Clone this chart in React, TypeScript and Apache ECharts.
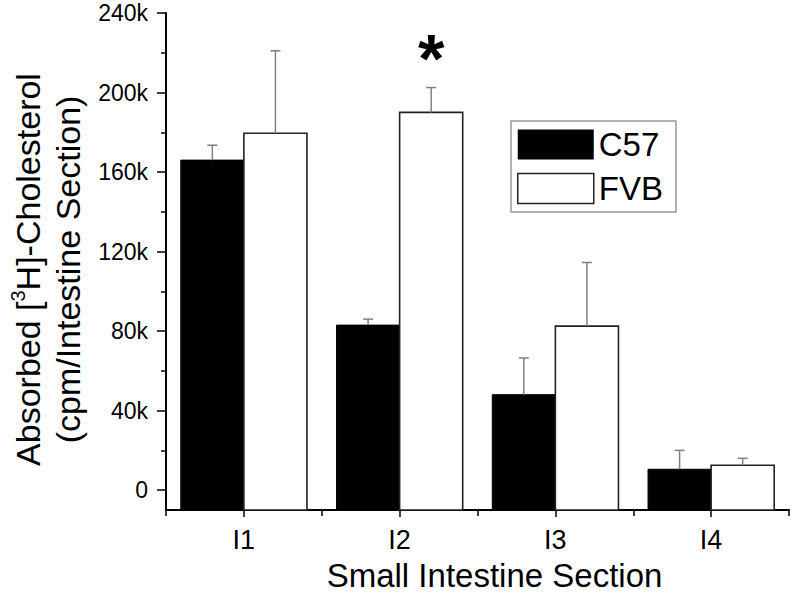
import React, { useEffect, useRef } from "react";
import * as echarts from "echarts";

const categories = ["I1", "I2", "I3", "I4"];
const c57Values = [166000, 83000, 48000, 10500];
const c57Errors = [7500, 3000, 18500, 9500];
const fvbValues = [179500, 190000, 82500, 12500];
const fvbErrors = [41500, 12500, 32000, 3500];
const fvbSignificance = ["", "*", "", ""];
const yMajorTicks = [0, 40000, 80000, 120000, 160000, 200000, 240000];
const yMinorTicks = [20000, 60000, 100000, 140000, 180000, 220000];
const Y_MIN = -10000;
const Y_MAX = 240000;

const FONT = "'Liberation Sans', Arial, Helvetica, sans-serif";
const BAR_FRAC = 0.405;

function makeRender(sIdx: number) {
  return (params: any, api: any) => {
    const cat = api.value(0);
    const val = api.value(1);
    const err = api.value(2);
    const top = api.coord([cat, val]);
    const base = api.coord([cat, Y_MIN]);
    const band = api.size([1, 0])[0];
    const w = band * BAR_FRAC;
    const x0 = sIdx === 0 ? top[0] - w : top[0];
    const cx = x0 + w / 2;
    const ey = api.coord([cat, val + err])[1];
    const children: any[] = [
      {
        type: "rect",
        shape: { x: x0, y: top[1], width: w, height: base[1] - top[1] },
        style:
          sIdx === 0
            ? { fill: "#000", stroke: "#000", lineWidth: 1 }
            : { fill: "#fff", stroke: "#222", lineWidth: 1.6 },
      },
      {
        type: "line",
        shape: { x1: cx, y1: top[1], x2: cx, y2: ey },
        style: { stroke: "#808080", lineWidth: 1.5 },
      },
      {
        type: "line",
        shape: { x1: cx - 5, y1: ey, x2: cx + 5, y2: ey },
        style: { stroke: "#808080", lineWidth: 1.5 },
      },
    ];
    if (sIdx === 1 && fvbSignificance[params.dataIndex]) {
      children.push({
        type: "text",
        style: {
          text: fvbSignificance[params.dataIndex],
          x: cx,
          y: ey - 30,
          align: "center",
          verticalAlign: "middle",
          fontSize: 68,
          fontWeight: "bold",
          fontFamily: FONT,
          fill: "#000",
        },
      });
    }
    return { type: "group", children };
  };
}

export default function App() {
  const ref = useRef<HTMLDivElement>(null);
  useEffect(() => {
    document.body.style.margin = "0";
    const chart = echarts.init(ref.current!, null, { renderer: "svg" });
    const tickStyle = { color: "#000", width: 1.5 };
    chart.setOption({
      animation: false,
      backgroundColor: "#fff",
      grid: { left: 165, right: 5, top: 13, bottom: 80, containLabel: false },
      legend: {
        orient: "vertical",
        left: 511,
        top: 121,
        padding: [7, 13, 7, 6],
        itemWidth: 76,
        itemHeight: 30,
        itemGap: 11,
        borderColor: "#999",
        borderWidth: 1.5,
        selectedMode: false,
        textStyle: { fontSize: 33, color: "#000", fontFamily: FONT },
        data: [
          { name: "C57", icon: "rect", itemStyle: { color: "#000", borderColor: "#000", borderWidth: 0 } },
          { name: "FVB", icon: "rect", itemStyle: { color: "#fff", borderColor: "#222", borderWidth: 1.5 } },
        ],
      },
      xAxis: [
        {
          type: "category",
          data: categories,
          position: "bottom",
          axisLine: { onZero: false, lineStyle: { color: "#000", width: 2 } },
          axisTick: { show: true, alignWithLabel: false, interval: 0, length: 6, lineStyle: tickStyle },
          axisLabel: { fontSize: 27, color: "#000", fontFamily: FONT, margin: 16 },
          splitLine: { show: false },
          name: "Small Intestine Section",
          nameLocation: "middle",
          nameGap: 49,
          nameTextStyle: { fontSize: 33, color: "#000", fontFamily: FONT, padding: [0, 0, 0, 34] },
        },
        {
          type: "category",
          data: categories,
          position: "bottom",
          axisLine: { show: false, onZero: false },
          axisTick: { show: true, alignWithLabel: true, interval: 0, length: 7, lineStyle: tickStyle },
          axisLabel: { show: false },
          splitLine: { show: false },
        },
      ],
      yAxis: [
        {
          type: "value",
          min: Y_MIN,
          max: Y_MAX,
          position: "left",
          axisLine: { show: true, lineStyle: { color: "#000", width: 2 } },
          axisTick: { show: true, customValues: yMajorTicks, length: 9, lineStyle: tickStyle },
          axisLabel: {
            customValues: yMajorTicks,
            fontSize: 23,
            color: "#000",
            fontFamily: FONT,
            margin: 18,
            formatter: (v: number) => (v === 0 ? "0" : v / 1000 + "k"),
          },
          splitLine: { show: false },
          name:
            "{a|Absorbed [}{s|3}{a|H]-Cholesterol}\n{a|(cpm/Intestine Section)}",
          nameLocation: "middle",
          nameGap: 78,
          nameTextStyle: {
            color: "#000",
            fontFamily: FONT,
            fontSize: 34,
            align: "center",
            padding: [0, 16, 0, 0],
            rich: {
              a: { fontSize: 34, fontFamily: FONT, color: "#000", lineHeight: 40, align: "center" },
              s: { fontSize: 20, fontFamily: FONT, color: "#000", lineHeight: 40, verticalAlign: "top", padding: [0, 0, 15, 0], align: "center" },
            },
          },
        },
        {
          type: "value",
          min: Y_MIN,
          max: Y_MAX,
          position: "left",
          offset: 0,
          axisLine: { show: false },
          axisTick: { show: true, customValues: yMinorTicks, length: 5, lineStyle: tickStyle },
          axisLabel: { show: false },
          splitLine: { show: false },
        },
      ],
      series: [
        {
          name: "C57",
          type: "custom",
          xAxisIndex: 0,
          yAxisIndex: 0,
          itemStyle: { color: "#000" },
          encode: { x: 0, y: 1 },
          renderItem: makeRender(0),
          data: categories.map((_, i) => [i, c57Values[i], c57Errors[i]]),
        },
        {
          name: "FVB",
          type: "custom",
          xAxisIndex: 0,
          yAxisIndex: 0,
          itemStyle: { color: "#fff", borderColor: "#222" },
          encode: { x: 0, y: 1 },
          renderItem: makeRender(1),
          data: categories.map((_, i) => [i, fvbValues[i], fvbErrors[i]]),
        },
      ],
    });
    return () => chart.dispose();
  }, []);
  return <div ref={ref} style={{ width: 794, height: 597 }} />;
}
